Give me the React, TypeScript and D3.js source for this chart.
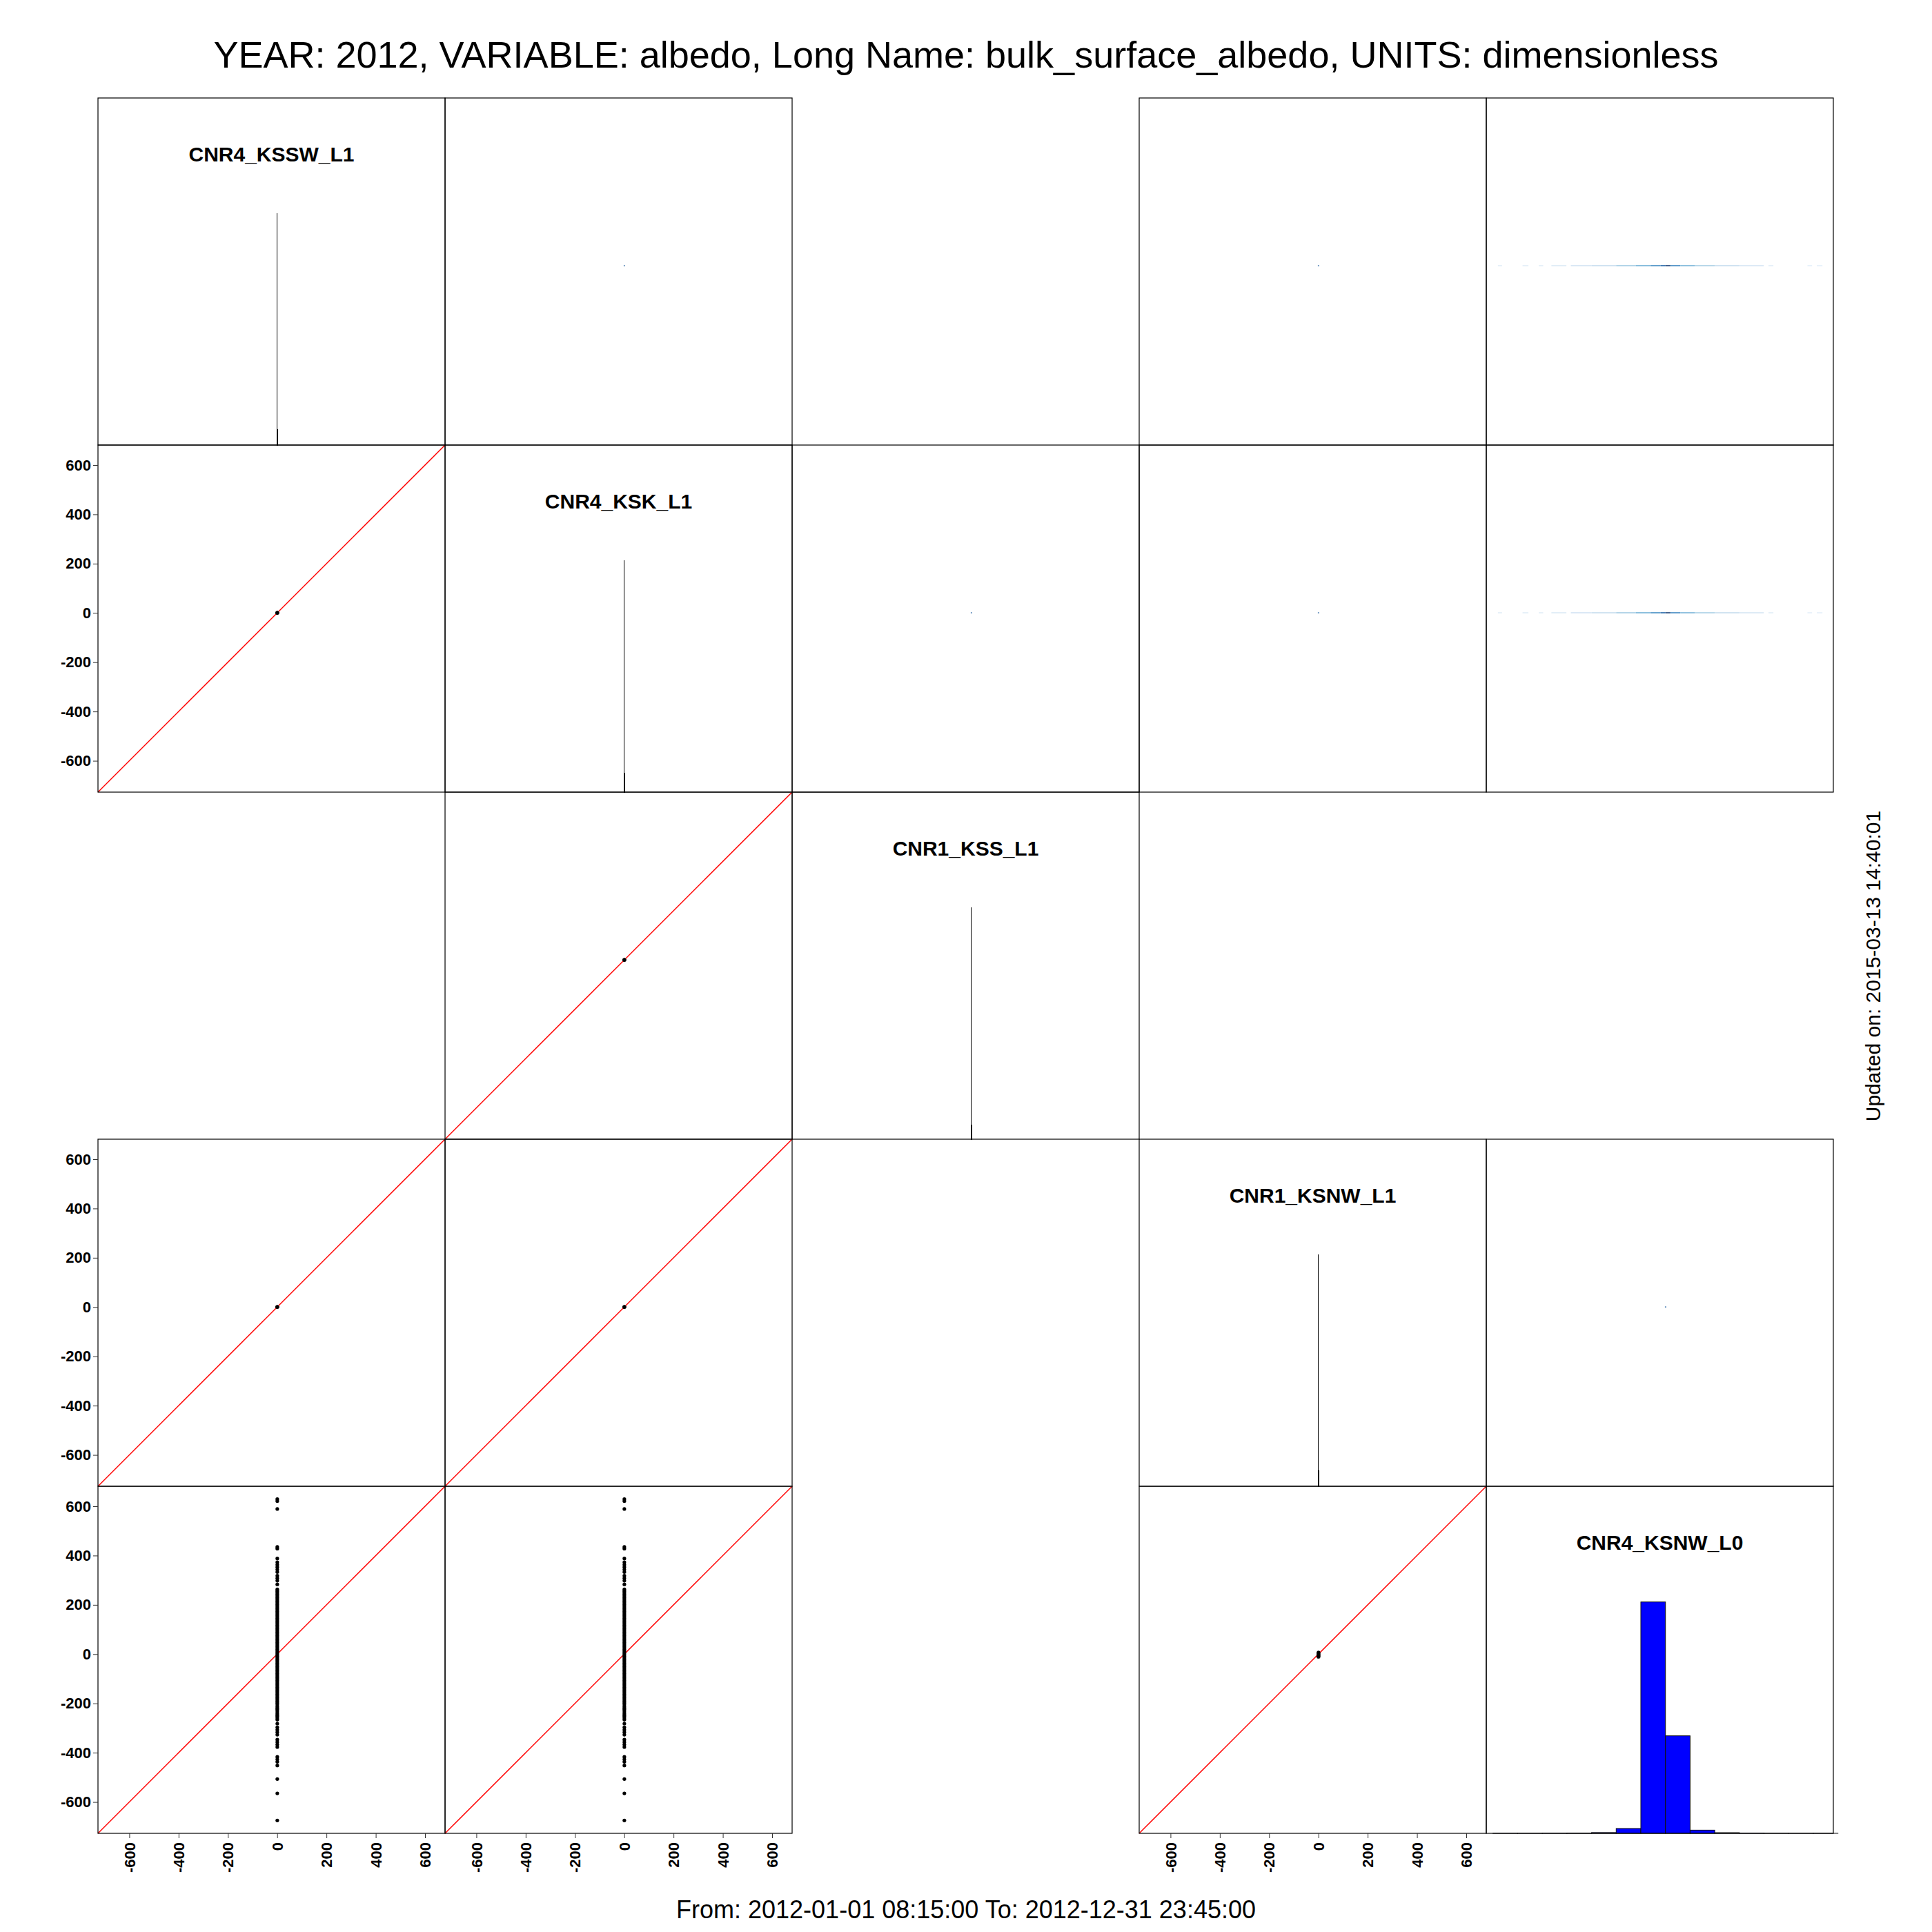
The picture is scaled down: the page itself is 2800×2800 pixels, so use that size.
import React, { useRef, useEffect } from "react";
import * as d3 from "d3";

const size = { width: 2800, height: 2800 };
const grid = { left: 142, top: 142, cell: 503 };
const font = "'Liberation Sans', Arial, Helvetica, sans-serif";

const title =
    "YEAR: 2012, VARIABLE: albedo, Long Name: bulk_surface_albedo, UNITS: dimensionless";
const period = "From: 2012-01-01 08:15:00 To: 2012-12-31 23:45:00";
const updated = "Updated on: 2015-03-13 14:40:01";

const variables = ["CNR4_KSSW_L1", "CNR4_KSK_L1", "CNR1_KSS_L1", "CNR1_KSNW_L1", "CNR4_KSNW_L0"];

// what sits in each cell of the pairs matrix ("" = nothing drawn)
const layout = [
    ["diag", "dot", "", "dot", "band"],
    ["scatter", "diag", "dot", "dot", "band"],
    ["", "scatter", "diag", "", ""],
    ["scatter", "scatter", "", "diag", "dot"],
    ["column", "column", "", "blob", "diag"],
];

const axisTicks = [-600, -400, -200, 0, 200, 400, 600];

// albedo histograms on the diagonal, breaks every 0.1
const albedoBreaks = [0, 0.1, 0.2, 0.3, 0.4, 0.5, 0.6, 0.7, 0.8, 0.9, 1];
const albedoCounts = [
    [210, 1850, 5300, 2400, 900, 620, 480, 350, 260, 190],
    [180, 1500, 4700, 2900, 1100, 700, 520, 380, 240, 150],
    [250, 2100, 5000, 2200, 850, 560, 430, 300, 210, 160],
    [200, 1700, 4900, 2600, 980, 640, 470, 330, 230, 170],
];

// CNR4_KSNW_L0 histogram
const l0Breaks = [-700, -600, -500, -400, -300, -200, -100, 0, 100, 200, 300, 400, 500, 600, 700];
const l0Counts = [2, 3, 12, 25, 70, 440, 21000, 8850, 290, 60, 18, 4, 1, 3];

// CNR4_KSNW_L0 plotted against the (near zero) albedo series
const l0Column = [
    629, 621, 589, 435, 428, 388, 373, 363, 353, 343, 333, 318, 308, 298, 283,
    263, 257, 251, 244, 237, 230, 223, 216, 209, 202, 195, 188, 181, 174, 167, 160, 153,
    146, 139, 132, 125, 118, 111, 104, 97, 90, 83, 76, 69, 62, 55, 48, 41, 34, 27, 20, 13,
    6, -1, -8, -15, -22, -29, -36, -43, -50, -57, -64, -71, -78, -85, -92, -99, -106, -113,
    -120, -127, -134, -141, -148, -155, -162, -169, -176, -183, -190, -197, -203, -211,
    -218, -224, -231, -239, -246, -252, -259, -266,
    -282, -297, -307, -317, -327, -347, -357, -367, -377, -417, -427, -437, -452, -507,
    -565, -675,
];
const columnAlbedo = 0.42;

// albedo vs albedo pairs (all collapse near the origin)
const albedoPairs = [
    [0.32, 0.35],
    [0.45, 0.47],
    [0.58, 0.6],
];

// CNR4_KSNW_L0 vs CNR1_KSNW_L1
const blobPairs = [
    [0.4, -11],
    [0.45, -8],
    [0.5, -5],
    [0.55, -2],
    [0.5, 1],
    [0.45, 4],
    [0.5, 7],
];

// smoothed density of CNR4_KSNW_L0 against albedo (upper panels)
const bandFrom = [-680, -580, -514, -463, -384, -300, -200, -120, -60, -20, 0, 20, 60, 120, 200, 300, 418, 576, 614];
const bandTo = [-663, -556, -496, -402, -300, -200, -120, -60, -20, 0, 20, 60, 120, 200, 300, 399, 438, 595, 637];
const bandLevel = [0.12, 0.12, 0.12, 0.15, 0.2, 0.26, 0.38, 0.52, 0.68, 0.85, 1, 0.7, 0.5, 0.36, 0.26, 0.18, 0.12, 0.1, 0.1];

const dotLevel = 0.88;

const App = () => {
    const canvas = useRef<SVGSVGElement>(null);

    useEffect(() => {
        document.body.style.margin = "0";
        const svg = d3.select(canvas.current);
        svg.selectAll("*").remove();

        const lo = d3.min(l0Column) as number;
        const hi = d3.max(l0Column) as number;
        const pad = (hi - lo) * 0.04;
        const domain = [lo - pad, hi + pad];
        const cell = grid.cell;

        const x = d3.scaleLinear().domain(domain).range([0, cell]);
        const y = d3.scaleLinear().domain(domain).range([cell, 0]);
        const blues = d3.scaleSequential(d3.interpolateBlues).domain([0, 1]);
        const plain = (d: any) => String(d);

        svg.append("rect").attr("width", size.width).attr("height", size.height).attr("fill", "#fff");

        svg.append("text")
            .attr("x", 1400)
            .attr("y", 98)
            .attr("text-anchor", "middle")
            .attr("font-family", font)
            .attr("font-size", 54)
            .text(title);

        svg.append("text")
            .attr("x", 1400)
            .attr("y", 2780)
            .attr("text-anchor", "middle")
            .attr("font-family", font)
            .attr("font-size", 36)
            .text(period);

        svg.append("text")
            .attr("transform", "translate(2725,1400) rotate(-90)")
            .attr("text-anchor", "middle")
            .attr("font-family", font)
            .attr("font-size", 30)
            .text(updated);

        const drawPoints = (g: any, pts: number[][]) => {
            g.selectAll("circle.pt")
                .data(pts)
                .enter()
                .append("circle")
                .attr("class", "pt")
                .attr("cx", (d: number[]) => x(d[0]))
                .attr("cy", (d: number[]) => y(d[1]))
                .attr("r", 2.6)
                .attr("fill", "#000");
        };

        const redLine = (g: any) => {
            g.append("line")
                .attr("x1", x(domain[0]))
                .attr("y1", y(domain[0]))
                .attr("x2", x(domain[1]))
                .attr("y2", y(domain[1]))
                .attr("stroke", "#ff0000")
                .attr("stroke-width", 1.5);
        };

        layout.forEach((row, r) => {
            row.forEach((kind, c) => {
                if (!kind) return;
                const g = svg
                    .append("g")
                    .attr("transform", `translate(${grid.left + c * cell},${grid.top + r * cell})`);

                if (kind === "diag") {
                    if (c === 4) {
                        const h = d3.scaleLinear().domain([0, (d3.max(l0Counts) as number) * 1.5]).range([cell, 0]);
                        g.selectAll("rect.bar")
                            .data(l0Counts)
                            .enter()
                            .append("rect")
                            .attr("class", "bar")
                            .attr("x", (d, i) => x(l0Breaks[i]))
                            .attr("width", (d, i) => x(l0Breaks[i + 1]) - x(l0Breaks[i]))
                            .attr("y", (d) => h(d))
                            .attr("height", (d) => cell - h(d))
                            .attr("fill", "#0000ff")
                            .attr("stroke", "#111")
                            .attr("stroke-width", 1);
                    } else {
                        const counts = albedoCounts[c];
                        const h = d3.scaleLinear().domain([0, (d3.max(counts) as number) * 1.5]).range([cell, 0]);
                        g.selectAll("rect.bar")
                            .data(counts)
                            .enter()
                            .append("rect")
                            .attr("class", "bar")
                            .attr("x", (d, i) => x(albedoBreaks[i]))
                            .attr("width", (d, i) => x(albedoBreaks[i + 1]) - x(albedoBreaks[i]))
                            .attr("y", (d) => h(d))
                            .attr("height", (d) => cell - h(d))
                            .attr("fill", "none")
                            .attr("stroke", "#000")
                            .attr("stroke-width", 1)
                            .attr("shape-rendering", "crispEdges");
                    }
                    g.append("text")
                        .attr("x", cell / 2)
                        .attr("y", 92)
                        .attr("text-anchor", "middle")
                        .attr("font-family", font)
                        .attr("font-weight", "bold")
                        .attr("font-size", 30)
                        .text(variables[c]);
                } else if (kind === "scatter") {
                    redLine(g);
                    drawPoints(g, albedoPairs);
                } else if (kind === "column") {
                    redLine(g);
                    drawPoints(
                        g,
                        l0Column.map((v) => [columnAlbedo, v])
                    );
                } else if (kind === "blob") {
                    redLine(g);
                    drawPoints(g, blobPairs);
                } else if (kind === "band") {
                    g.selectAll("rect.band")
                        .data(bandLevel)
                        .enter()
                        .append("rect")
                        .attr("class", "band")
                        .attr("x", (d, i) => x(bandFrom[i]))
                        .attr("width", (d, i) => x(bandTo[i]) - x(bandFrom[i]))
                        .attr("y", y(0.5) - 0.8)
                        .attr("height", 1.6)
                        .attr("fill", (d) => blues(d));
                } else if (kind === "dot") {
                    g.append("rect")
                        .attr("x", x(0.5) - 1)
                        .attr("y", y(0.5) - 0.6)
                        .attr("width", 2)
                        .attr("height", 1.2)
                        .attr("fill", blues(dotLevel));
                }

                g.append("rect")
                    .attr("width", cell)
                    .attr("height", cell)
                    .attr("fill", "none")
                    .attr("stroke", "#000")
                    .attr("stroke-width", 1.2);

                // axes on the outer edge of the matrix
                if (c === 0 && kind !== "diag") {
                    const ax = g
                        .append("g")
                        .call(d3.axisLeft(y).tickValues(axisTicks).tickFormat(plain).tickSize(7).tickPadding(3));
                    ax.select(".domain").remove();
                    ax.selectAll("line").attr("stroke", "#333");
                    ax.selectAll("text")
                        .attr("font-family", font)
                        .attr("font-weight", "bold")
                        .attr("font-size", 22)
                        .attr("fill", "#000");
                }
                if (r === 4 && kind !== "diag") {
                    const ax = g
                        .append("g")
                        .attr("transform", `translate(0,${cell})`)
                        .call(d3.axisBottom(x).tickValues(axisTicks).tickFormat(plain).tickSize(7));
                    ax.select(".domain").remove();
                    ax.selectAll("line").attr("stroke", "#333");
                    ax.selectAll("text")
                        .attr("transform", "rotate(-90)")
                        .attr("text-anchor", "end")
                        .attr("x", -13)
                        .attr("y", 0)
                        .attr("dy", "0.35em")
                        .attr("font-family", font)
                        .attr("font-weight", "bold")
                        .attr("font-size", 22)
                        .attr("fill", "#000");
                }
            });
        });
    }, []);

    return <svg ref={canvas} width={size.width} height={size.height} style={{ display: "block" }} />;
};

export default App;
